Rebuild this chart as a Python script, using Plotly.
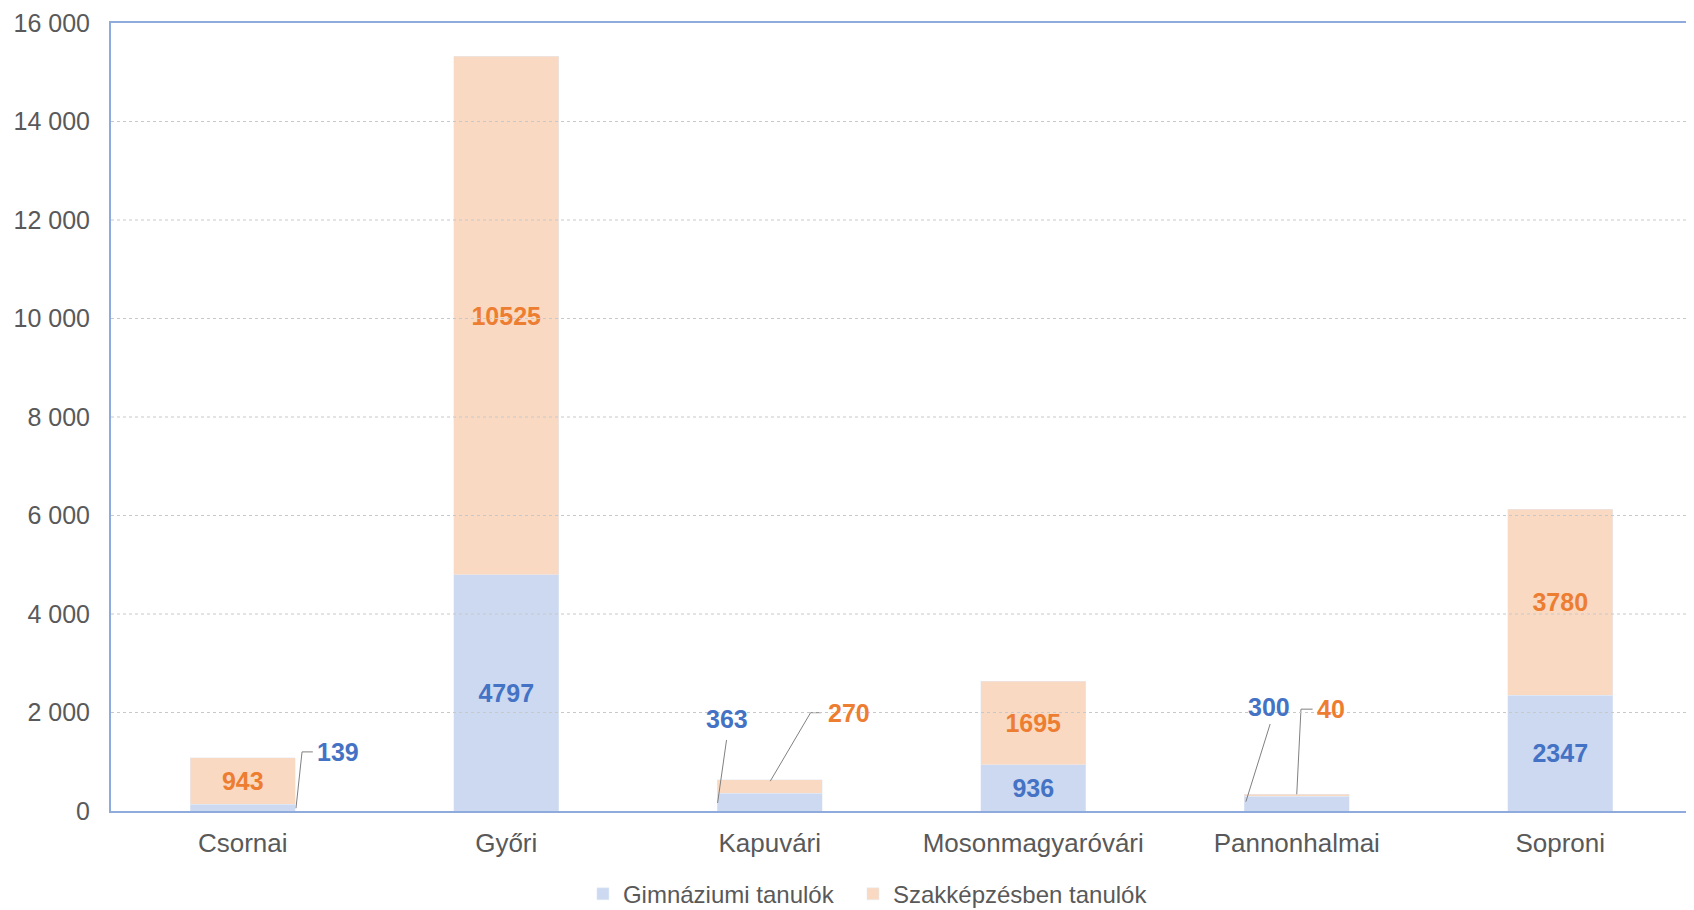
import plotly.graph_objects as go

categories = ["Csornai", "Győri", "Kapuvári", "Mosonmagyaróvári", "Pannonhalmai", "Soproni"]
gimn = [139, 4797, 363, 936, 300, 2347]
szakk = [943, 10525, 270, 1695, 40, 3780]
series_names = ["Gimnáziumi tanulók", "Szakképzésben tanulók"]
tick_vals = [0, 2000, 4000, 6000, 8000, 10000, 12000, 14000, 16000]
tick_text = ["0", "2 000", "4 000", "6 000", "8 000", "10 000", "12 000", "14 000", "16 000"]

FONT = "Liberation Sans, Arial, sans-serif"
BLUE_FILL, ORANGE_FILL = "#CCD9F0", "#F9D9C2"
BLUE_TXT, ORANGE_TXT = "#4472C4", "#ED7D31"
AXIS_LINE = "#8FAADC"

# labels too small to sit inside their bar -> callouts with leader lines
# tip: (x offset from category, fraction of segment), path: leader bend points, label: text position
callouts = {
    (0, "Csornai"): dict(tip=(0.202, 0.4), path=[(0.225, 1200), (0.266, 1200)], label=(0.361, 1200)),
    (0, "Kapuvári"): dict(tip=(-0.198, 0.45), path=[(-0.164, 1442)], label=(-0.164, 1868)),
    (1, "Kapuvári"): dict(tip=(0.002, 0.9), path=[(0.155, 1996), (0.195, 1996)], label=(0.299, 1996)),
    (0, "Pannonhalmai"): dict(tip=(-0.193, 0.63), path=[(-0.101, 1766)], label=(-0.105, 2106)),
    (1, "Pannonhalmai"): dict(tip=(0.0, 1.0), path=[(0.016, 2068), (0.06, 2068)], label=(0.13, 2068)),
}

fig = go.Figure()
series = [(gimn, BLUE_FILL, BLUE_TXT), (szakk, ORANGE_FILL, ORANGE_TXT)]
legend_ids = ["legend", "legend2"]
for i, (vals, fill, tcol) in enumerate(series):
    text = ["" if (i, c) in callouts else str(v) for c, v in zip(categories, vals)]
    fig.add_trace(go.Bar(
        x=categories, y=vals, name=series_names[i], marker_color=fill, legend=legend_ids[i],
        text=text, textposition="inside", insidetextanchor="middle", textangle=0,
        textfont=dict(family=FONT, size=25, color=tcol, weight="bold"),
    ))

annotations = []
shapes = []
for (i, cat), c in callouts.items():
    k = categories.index(cat)
    base = gimn[k] if i == 1 else 0
    val = series[i][0][k]
    pts = [(k + c["tip"][0], base + val * c["tip"][1])] + [(k + dx, y) for dx, y in c["path"]]
    for (x0, y0), (x1, y1) in zip(pts[:-1], pts[1:]):
        shapes.append(dict(type="line", xref="x", yref="y", x0=x0, y0=y0, x1=x1, y1=y1,
                           line=dict(color="#808080", width=1)))
    annotations.append(dict(
        x=k + c["label"][0], y=c["label"][1], xref="x", yref="y",
        text=f"<b>{val}</b>", showarrow=False,
        font=dict(family=FONT, size=25, color=series[i][2]),
    ))

# gridlines sit on top of the bars in the original
for t in tick_vals[1:-1]:
    shapes.append(dict(type="line", xref="paper", yref="y", x0=0, x1=1, y0=t, y1=t,
                       layer="above", line=dict(color="#C8C8C8", width=1, dash="dot")))

legend_style = dict(orientation="h", xanchor="left", yref="container", y=0.0175, yanchor="middle",
                    font=dict(size=24, color="#595959"), itemwidth=30)

# page body has an 8px margin, so the figure is sized to fit the window
fig.update_layout(
    barmode="stack", bargap=0.6,
    width=1686, height=902,
    margin=dict(l=103, r=2, t=15, b=99),
    plot_bgcolor="white", paper_bgcolor="white",
    font=dict(family=FONT, color="#595959"),
    annotations=annotations, shapes=shapes,
    legend=dict(x=0.2985, **legend_style),
    legend2=dict(x=0.4693, **legend_style),
    showlegend=True,
)
fig.update_yaxes(range=[0, 16000], tickvals=tick_vals, ticktext=tick_text, automargin=False,
                 tickfont=dict(size=25, color="#595959"), ticklabelstandoff=14,
                 showgrid=False, showline=True, linecolor=AXIS_LINE, linewidth=2,
                 mirror=True, zeroline=False)
fig.update_xaxes(tickfont=dict(size=26, color="#595959"), ticklabelstandoff=8, automargin=False,
                 showline=True, linecolor=AXIS_LINE, linewidth=2, mirror=True)

fig.write_html("out.html")
